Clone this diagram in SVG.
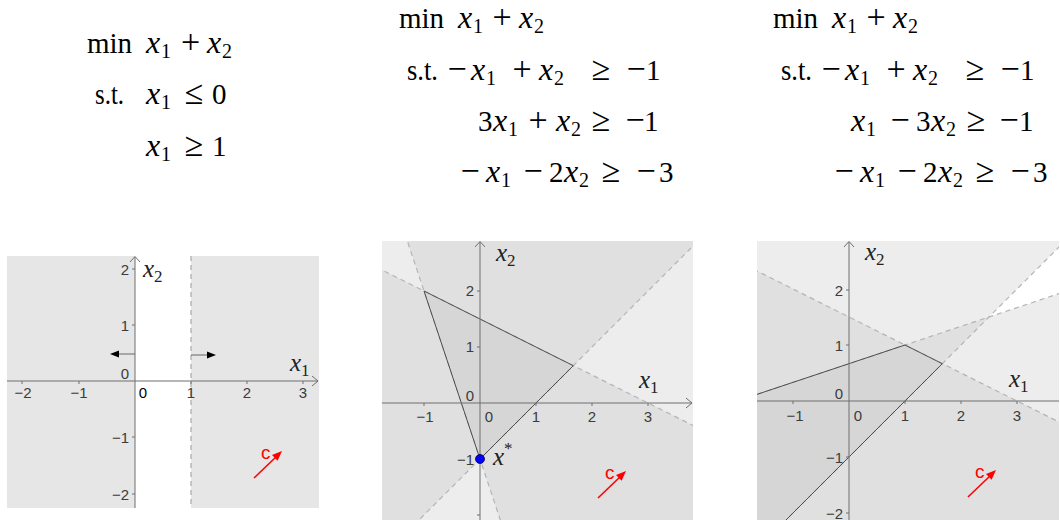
<svg xmlns="http://www.w3.org/2000/svg" width="1060" height="520" viewBox="0 0 1060 520">
<defs>
<style>
.sub{font-size:20px}
.mi{font-style:italic;font-size:32px}
.op{font-size:34px}
.tick{font-family:"Liberation Sans",Arial,sans-serif;font-size:15px;fill:#3c3c3c}
.axis{stroke:#6e6e6e;stroke-width:1;fill:none}
.dash{stroke:#b4b4b4;stroke-width:1.2;stroke-dasharray:5 4;fill:none}
.half{fill:#bebebe;fill-opacity:0.28;stroke:none}
.edge{stroke:#505050;stroke-width:1;fill:none}
.lab{font-style:italic;font-size:25px;fill:#222}
.ls{font-style:normal;font-size:17px}
.cv{font-family:"Liberation Sans",Arial,sans-serif;font-size:19px;fill:#ff0000}
</style>
<clipPath id="cp2"><rect x="382" y="241" width="311" height="279"/></clipPath>
<clipPath id="cp3"><rect x="757" y="241" width="302" height="279"/></clipPath>
<g id="cvec">
<line x1="0" y1="0" x2="23" y2="-22" stroke="#ff0000" stroke-width="1.6"/>
<polygon points="28,-27 23.6,-17.2 18,-23" fill="#ff0000"/>
<text class="cv" x="7" y="-19">c</text>
</g>
</defs>
<rect width="1060" height="520" fill="#ffffff"/>

<!-- Equations panel 1 -->
<g id="eq1" font-family="Liberation Serif, Times New Roman, serif" font-size="29" fill="#000">
<text x="87" y="53">min</text>
<text class="mi" x="146" y="53">x</text><text class="sub" x="161" y="58">1</text>
<text class="op" x="190.5" y="53" text-anchor="middle">+</text>
<text class="mi" x="207" y="53">x</text><text class="sub" x="222" y="58">2</text>
<text x="95" y="104" textLength="29" lengthAdjust="spacingAndGlyphs">s.t.</text>
<text class="mi" x="146" y="104">x</text><text class="sub" x="161" y="109">1</text>
<text class="op" x="194" y="104" text-anchor="middle">≤</text>
<text x="212" y="104">0</text>
<text class="mi" x="146" y="156">x</text><text class="sub" x="161" y="161">1</text>
<text class="op" x="194" y="156" text-anchor="middle">≥</text>
<text x="212" y="156">1</text>
</g>

<!-- Equations panel 2 -->
<g id="eq2" font-family="Liberation Serif, Times New Roman, serif" font-size="29" fill="#000">
<text x="399" y="28">min</text>
<text class="mi" x="458" y="28">x</text><text class="sub" x="473" y="33">1</text>
<text class="op" x="502" y="28" text-anchor="middle">+</text>
<text class="mi" x="519" y="28">x</text><text class="sub" x="534" y="33">2</text>
<text x="407" y="80" textLength="31" lengthAdjust="spacingAndGlyphs">s.t.</text>
<text class="op" x="457" y="80" text-anchor="middle">−</text>
<text class="mi" x="471" y="80">x</text><text class="sub" x="486" y="85">1</text>
<text class="op" x="522" y="80" text-anchor="middle">+</text>
<text class="mi" x="539" y="80">x</text><text class="sub" x="554" y="85">2</text>
<text class="op" x="601" y="80" text-anchor="middle">≥</text>
<text class="op" x="636" y="80" text-anchor="middle">−</text>
<text x="646" y="80">1</text>
<text x="478" y="131">3</text>
<text class="mi" x="493" y="131">x</text><text class="sub" x="508" y="136">1</text>
<text class="op" x="538" y="131" text-anchor="middle">+</text>
<text class="mi" x="556" y="131">x</text><text class="sub" x="571" y="136">2</text>
<text class="op" x="601" y="131" text-anchor="middle">≥</text>
<text class="op" x="635" y="131" text-anchor="middle">−</text>
<text x="644" y="131">1</text>
<text class="op" x="470" y="182" text-anchor="middle">−</text>
<text class="mi" x="486" y="182">x</text><text class="sub" x="501" y="187">1</text>
<text class="op" x="533" y="182" text-anchor="middle">−</text>
<text x="549" y="182">2</text>
<text class="mi" x="564" y="182">x</text><text class="sub" x="579" y="187">2</text>
<text class="op" x="611" y="182" text-anchor="middle">≥</text>
<text class="op" x="646" y="182" text-anchor="middle">−</text>
<text x="659" y="182">3</text>
</g>

<!-- Equations panel 3 -->
<g id="eq3" font-family="Liberation Serif, Times New Roman, serif" font-size="29" fill="#000">
<text x="773" y="28">min</text>
<text class="mi" x="832" y="28">x</text><text class="sub" x="847" y="33">1</text>
<text class="op" x="876" y="28" text-anchor="middle">+</text>
<text class="mi" x="893" y="28">x</text><text class="sub" x="908" y="33">2</text>
<text x="781" y="80" textLength="31" lengthAdjust="spacingAndGlyphs">s.t.</text>
<text class="op" x="831" y="80" text-anchor="middle">−</text>
<text class="mi" x="845" y="80">x</text><text class="sub" x="860" y="85">1</text>
<text class="op" x="896" y="80" text-anchor="middle">+</text>
<text class="mi" x="913" y="80">x</text><text class="sub" x="928" y="85">2</text>
<text class="op" x="975" y="80" text-anchor="middle">≥</text>
<text class="op" x="1010" y="80" text-anchor="middle">−</text>
<text x="1020" y="80">1</text>
<text class="mi" x="851" y="131">x</text><text class="sub" x="866" y="136">1</text>
<text class="op" x="900" y="131" text-anchor="middle">−</text>
<text x="916" y="131">3</text>
<text class="mi" x="931" y="131">x</text><text class="sub" x="946" y="136">2</text>
<text class="op" x="976" y="131" text-anchor="middle">≥</text>
<text class="op" x="1009" y="131" text-anchor="middle">−</text>
<text x="1019" y="131">1</text>
<text class="op" x="844" y="182" text-anchor="middle">−</text>
<text class="mi" x="860" y="182">x</text><text class="sub" x="875" y="187">1</text>
<text class="op" x="907" y="182" text-anchor="middle">−</text>
<text x="923" y="182">2</text>
<text class="mi" x="938" y="182">x</text><text class="sub" x="953" y="187">2</text>
<text class="op" x="985" y="182" text-anchor="middle">≥</text>
<text class="op" x="1020" y="182" text-anchor="middle">−</text>
<text x="1033" y="182">3</text>
</g>

<!-- Panel 1 plot -->
<g id="plot1">
<rect x="7" y="256" width="128" height="252" fill="#e6e6e6"/>
<rect x="191" y="256" width="128" height="252" fill="#e6e6e6"/>
<line class="dash" x1="191" y1="256" x2="191" y2="508" style="stroke:#a8a8a8"/>
<line class="axis" x1="7" y1="381" x2="318" y2="381"/>
<polyline class="axis" points="312,376 318,381 312,386"/>
<line class="axis" x1="135" y1="508" x2="135" y2="257"/>
<polyline class="axis" points="130,262 135,256.5 140,262"/>
<path class="axis" d="M22,381v3M79,381v3M191,381v3M247,381v3M303,381v3M132,269h3M132,325h3M132,437h3M132,494h3"/>
<line x1="135" y1="354" x2="116" y2="354" stroke="#666" stroke-width="1"/>
<polygon points="110,354 119,350.5 119,357.5" fill="#000"/>
<line x1="191" y1="355" x2="209" y2="355" stroke="#666" stroke-width="1"/>
<polygon points="216,355 207,351.5 207,358.5" fill="#000"/>
<g class="tick" text-anchor="middle">
<text x="23" y="398">−2</text>
<text x="79" y="398">−1</text>
<text x="143" y="398" style="fill:#000">0</text>
<text x="191" y="398">1</text>
<text x="247" y="398">2</text>
<text x="303" y="398">3</text>
</g>
<g class="tick" text-anchor="end">
<text x="129" y="275">2</text>
<text x="129" y="331">1</text>
<text x="129" y="379">0</text>
<text x="129" y="443">−1</text>
<text x="129" y="500">−2</text>
</g>
<g font-family="Liberation Serif, Times New Roman, serif">
<text class="lab" x="143" y="277">x<tspan class="ls" dy="5">2</tspan></text>
<text class="lab" x="290" y="371">x<tspan class="ls" dy="5">1</tspan></text>
</g>
<use href="#cvec" x="254" y="478"/>
</g>

<!-- Panel 2 plot -->
<g id="plot2">
<g clip-path="url(#cp2)">
<polygon class="half" points="312,627 760,179 760,123 312,123"/>
<polygon class="half" points="368,123 536,627 760,627 760,123"/>
<polygon class="half" points="312,235 760,459 760,627 312,627"/>
<line class="dash" x1="312" y1="627" x2="760" y2="179"/>
<line class="dash" x1="368" y1="123" x2="536" y2="627"/>
<line class="dash" x1="312" y1="235" x2="760" y2="459"/>
<polygon class="edge" points="424,291 573.3,365.7 480,459"/>
<line class="axis" x1="382" y1="403" x2="692" y2="403"/>
<polyline class="axis" points="686,398 692,403 686,408"/>
<line class="axis" x1="480" y1="520" x2="480" y2="242"/>
<polyline class="axis" points="475,247 480,241.5 485,247"/>
<path class="axis" d="M424,403v3M536,403v3M592,403v3M648,403v3M477,291h3M477,347h3M477,459h3M477,515h3"/>
</g>
<g class="tick" text-anchor="middle">
<text x="425" y="422">−1</text>
<text x="489" y="422">0</text>
<text x="536" y="422">1</text>
<text x="592" y="422">2</text>
<text x="648" y="422">3</text>
</g>
<g class="tick" text-anchor="end">
<text x="474" y="296">2</text>
<text x="474" y="352">1</text>
<text x="474" y="401">0</text>
<text x="474" y="465">−1</text>
</g>
<circle cx="480" cy="459" r="4.5" fill="#0000ff" stroke="#000040" stroke-width="0.8"/>
<g font-family="Liberation Serif, Times New Roman, serif">
<text class="lab" x="496" y="261">x<tspan class="ls" dy="5">2</tspan></text>
<text class="lab" x="639" y="388">x<tspan class="ls" dy="5">1</tspan></text>
<text class="lab" x="493" y="465">x<tspan class="ls" dy="-11">*</tspan></text>
</g>
<use href="#cvec" x="598" y="498"/>
</g>

<!-- Panel 3 plot -->
<g id="plot3">
<g clip-path="url(#cp3)">
<polygon class="half" points="681,625 1129,177 1129,121 681,121"/>
<polygon class="half" points="681,419.7 1129,270.3 1129,625 681,625"/>
<polygon class="half" points="681,233 1129,457 1129,625 681,625"/>
<line class="dash" x1="681" y1="625" x2="1129" y2="177"/>
<line class="dash" x1="681" y1="419.7" x2="1129" y2="270.3"/>
<line class="dash" x1="681" y1="233" x2="1129" y2="457"/>
<polygon class="edge" points="681,419.7 905,345 942.3,363.7 681,625"/>
<line class="axis" x1="757" y1="401" x2="1059" y2="401"/>
<line class="axis" x1="849" y1="520" x2="849" y2="242"/>
<polyline class="axis" points="844,247 849,241.5 854,247"/>
<path class="axis" d="M793,401v3M905,401v3M961,401v3M1017,401v3M846,290h3M846,345h3M846,457h3M846,513h3"/>
</g>
<g class="tick" text-anchor="middle">
<text x="795" y="421">−1</text>
<text x="858" y="421">0</text>
<text x="905" y="421">1</text>
<text x="961" y="421">2</text>
<text x="1017" y="421">3</text>
</g>
<g class="tick" text-anchor="end">
<text x="843" y="296">2</text>
<text x="843" y="351">1</text>
<text x="843" y="399">0</text>
<text x="843" y="463">−1</text>
<text x="843" y="519">−2</text>
</g>
<g font-family="Liberation Serif, Times New Roman, serif">
<text class="lab" x="865" y="260">x<tspan class="ls" dy="5">2</tspan></text>
<text class="lab" x="1009" y="387">x<tspan class="ls" dy="5">1</tspan></text>
</g>
<use href="#cvec" x="968" y="497"/>
</g>
</svg>
